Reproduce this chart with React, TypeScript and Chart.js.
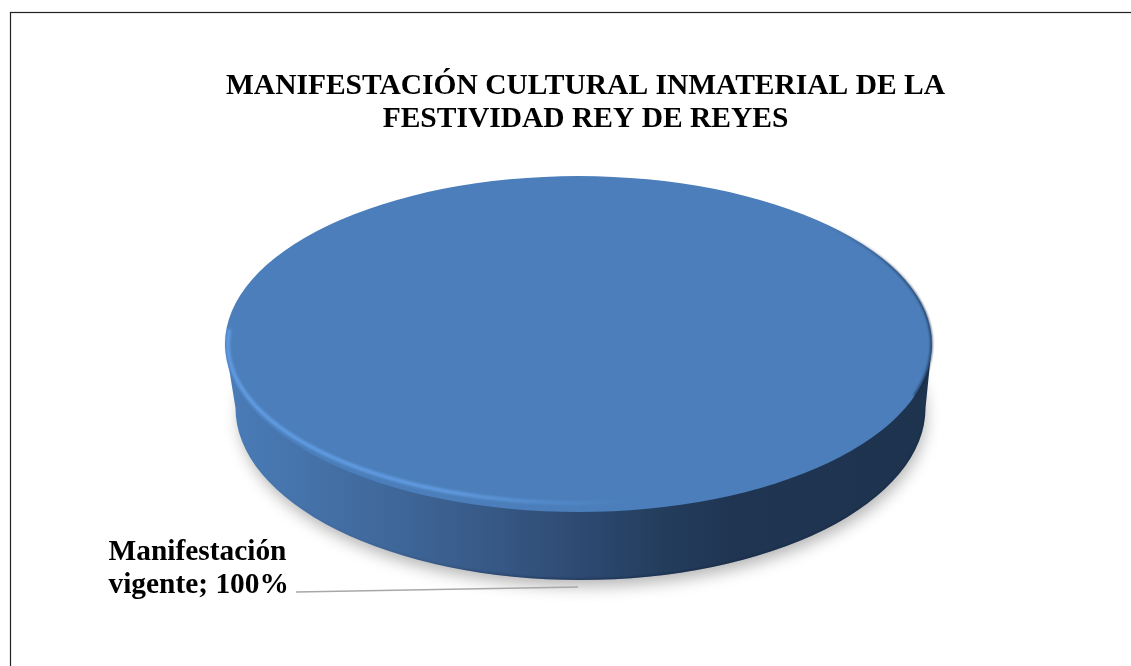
import React, { useEffect, useRef } from "react";
import { Chart, registerables } from "chart.js";

Chart.register(...registerables);

const titleLines = ["MANIFESTACIÓN CULTURAL INMATERIAL DE LA", "FESTIVIDAD REY DE REYES"];
const categories = ["Manifestación vigente"];
const seriesValues = [100];
const sliceColors = ["#4b7eba"];

const FONT = '"Liberation Serif", "Times New Roman", serif';
const W = 1131;
const H = 666;
const RX = 353.5;
const DEPTH_Y = 64;
const LOWER_RX = 345;
const LOWER_RY = 172;
const LOWER_DX = 2;

const sidePlugin = {
  id: "flatDisc",
  afterLayout(chart: any) {
    chart.titleBlock.left += 7;
    chart.titleBlock.right += 7;
  },
  beforeDraw(chart: any) {
    const { ctx } = chart;
    ctx.save();
    ctx.fillStyle = "#ffffff";
    ctx.fillRect(0, 0, W, H);
    ctx.strokeStyle = "#222222";
    ctx.lineWidth = 1.2;
    ctx.strokeRect(10.5, 12.5, W + 20, H + 20);
    ctx.restore();
  },
  beforeDatasetDraw(chart: any) {
    const { ctx } = chart;
    const arc = chart.getDatasetMeta(0).data[0];
    const { x, y, outerRadius: r } = arc;
    const ly = y + DEPTH_Y;
    const lx = x + LOWER_DX;

    const wall = () => {
      ctx.beginPath();
      ctx.moveTo(x - RX, y);
      ctx.lineTo(lx - LOWER_RX, ly);
      ctx.ellipse(lx, ly, LOWER_RX, LOWER_RY, 0, Math.PI, 0, true);
      ctx.lineTo(x + RX, y);
      ctx.closePath();
    };

    ctx.save();
    // soft ground shadow
    ctx.save();
    ctx.shadowColor = "rgba(0,0,0,0.3)";
    ctx.shadowBlur = 16;
    ctx.shadowOffsetY = 8;
    ctx.shadowOffsetX = 2;
    ctx.fillStyle = "#3a3a3a";
    ctx.beginPath();
    ctx.ellipse(lx, ly, LOWER_RX - 2, LOWER_RY - 2, 0, 0, Math.PI * 2);
    ctx.fill();
    ctx.restore();

    // side wall
    const g = ctx.createLinearGradient(x - RX, 0, x + RX, 0);
    g.addColorStop(0, "#4a7cb8");
    g.addColorStop(0.11, "#4573aa");
    g.addColorStop(0.25, "#3f6698");
    g.addColorStop(0.4, "#355682");
    g.addColorStop(0.5, "#2e4a72");
    g.addColorStop(0.62, "#243d5d");
    g.addColorStop(0.72, "#1f3552");
    g.addColorStop(1, "#1e334e");
    ctx.fillStyle = g;
    wall();
    ctx.fill();

    // darker soft line along the bottom of the wall, fading out to the left
    ctx.save();
    wall();
    ctx.clip();
    const low = ctx.createLinearGradient(x - RX, 0, x + RX, 0);
    low.addColorStop(0, "rgba(15,30,55,0)");
    low.addColorStop(0.2, "rgba(15,30,55,0.1)");
    low.addColorStop(0.5, "rgba(15,30,55,0.55)");
    low.addColorStop(1, "rgba(15,30,55,0.3)");
    ctx.filter = "blur(1px)";
    ctx.strokeStyle = low;
    ctx.lineWidth = 2;
    ctx.beginPath();
    ctx.ellipse(lx, ly, LOWER_RX, LOWER_RY, 0, Math.PI, 0, true);
    ctx.stroke();
    ctx.restore();
    ctx.restore();

    // the top face is the library's own arc, stretched into an ellipse
    ctx.save();
    ctx.filter = "blur(0.5px)";
    ctx.translate(x, y);
    ctx.scale(RX / r, 1);
    ctx.translate(-x, -y);
  },
  afterDatasetDraw(chart: any) {
    const { ctx } = chart;
    const arc = chart.getDatasetMeta(0).data[0];
    const { x, y, outerRadius: r } = arc;
    ctx.restore();

    // bevel highlight on the front-left rim
    ctx.save();
    const rim = ctx.createLinearGradient(x - RX, 0, x + RX, 0);
    rim.addColorStop(0, "rgba(104,165,238,1)");
    rim.addColorStop(0.32, "rgba(104,165,238,0.95)");
    rim.addColorStop(0.46, "rgba(104,165,238,0.4)");
    rim.addColorStop(0.58, "rgba(104,165,238,0)");
    rim.addColorStop(1, "rgba(104,165,238,0)");
    ctx.strokeStyle = rim;
    ctx.lineWidth = 3;
    ctx.filter = "blur(1.4px)";
    ctx.beginPath();
    ctx.ellipse(x, y, RX - 3, r - 9, 0, Math.PI * 1.03, Math.PI * 0.25, true);
    ctx.stroke();
    ctx.restore();

    // dark edge on the right rim
    ctx.save();
    const dark = ctx.createLinearGradient(x + RX * 0.7, 0, x + RX, 0);
    dark.addColorStop(0, "rgba(20,40,70,0)");
    dark.addColorStop(1, "rgba(20,40,70,0.85)");
    ctx.strokeStyle = dark;
    ctx.lineWidth = 2;
    ctx.filter = "blur(0.8px)";
    ctx.beginPath();
    ctx.ellipse(x, y, RX - 0.5, r - 0.5, 0, -Math.PI * 0.3, Math.PI * 0.1);
    ctx.stroke();
    ctx.restore();

    // data label with leader line
    ctx.save();
    const text = `${categories[0]}; ${seriesValues[0]}%`;
    const cut = text.indexOf(" ");
    ctx.font = `bold 29.4px ${FONT}`;
    ctx.fillStyle = "#000000";
    ctx.textAlign = "left";
    ctx.textBaseline = "alphabetic";
    ctx.fillText(text.slice(0, cut), 108.5, 560);
    ctx.fillText(text.slice(cut + 1), 108.5, 593);
    ctx.strokeStyle = "#a8a8a8";
    ctx.lineWidth = 1.5;
    ctx.beginPath();
    ctx.moveTo(296, 592);
    ctx.lineTo(578, 587);
    ctx.stroke();
    ctx.restore();
  },
};

export default function App() {
  const ref = useRef<HTMLCanvasElement>(null);
  useEffect(() => {
    document.body.style.margin = "0";
    document.body.style.overflow = "hidden";
    const chart = new Chart(ref.current as HTMLCanvasElement, {
      type: "pie",
      data: {
        labels: categories,
        datasets: [{ data: seriesValues, backgroundColor: sliceColors, borderWidth: 0 }],
      },
      options: {
        animation: false,
        responsive: false,
        devicePixelRatio: 1,
        layout: { padding: { left: 100, right: 74, top: 70, bottom: 154 } },
        plugins: {
          legend: { display: false },
          tooltip: { enabled: false },
          title: {
            display: true,
            text: titleLines,
            color: "#000000",
            font: { family: FONT, size: 29.5, weight: "bold", lineHeight: 1.12 },
            padding: { top: 0, bottom: 40 },
          },
        },
      },
      plugins: [sidePlugin],
    } as any);
    return () => chart.destroy();
  }, []);
  return <canvas ref={ref} width={W} height={H} style={{ display: "block" }} />;
}
